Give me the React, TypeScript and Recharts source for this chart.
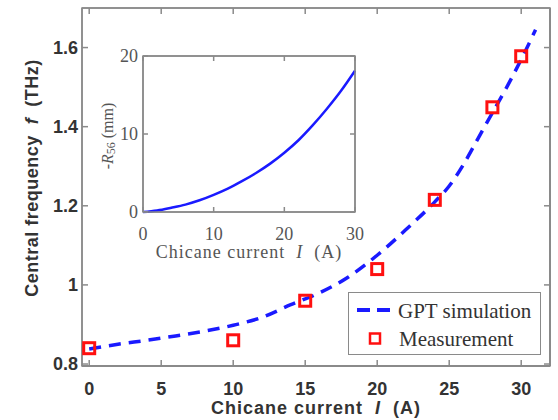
import React from 'react';
import { ComposedChart, LineChart, Line, Scatter, XAxis, YAxis, Legend, ReferenceArea } from 'recharts';

// Main chart data
const simCurrent = [0, 2, 4, 6, 8, 10, 12, 14, 16, 18, 20, 22, 24, 25, 26, 27, 28, 29, 30, 31];
const simFrequency = [0.838, 0.85, 0.86, 0.871, 0.883, 0.898, 0.918, 0.95, 0.98, 1.02, 1.075, 1.14, 1.21, 1.25, 1.305, 1.37, 1.435, 1.5, 1.57, 1.645];
const measCurrent = [0, 10, 15, 20, 24, 28, 30];
const measFrequency = [0.84, 0.86, 0.96, 1.04, 1.215, 1.449, 1.578];

// Inset data
const insetCurrent = [0, 2, 4, 6, 8, 10, 12, 14, 16, 18, 20, 22, 24, 26, 28, 30];
const insetR56 = [0, 0.2, 0.55, 0.95, 1.5, 2.2, 3.0, 3.95, 5.0, 6.2, 7.6, 9.2, 11.1, 13.2, 15.5, 18.1];

// Ticks
const mainXTicks = [0, 5, 10, 15, 20, 25, 30];
const mainYTicks = [0.8, 1, 1.2, 1.4, 1.6];
const insetXTicks = [0, 10, 20, 30];
const insetYTicks = [0, 10, 20];

const seriesNames = ['GPT simulation', 'Measurement'];

const simData = simCurrent.map((c, i) => ({ current: c, freq: simFrequency[i] }));
const measData = measCurrent.map((c, i) => ({ current: c, freq: measFrequency[i] }));
const insetData = insetCurrent.map((c, i) => ({ current: c, r56: insetR56[i] }));

const MAIN_X_DOMAIN: [number, number] = [-0.5, 32];
const MAIN_Y_DOMAIN: [number, number] = [0.795, 1.7];
const INSET_X_DOMAIN: [number, number] = [0, 30];
const INSET_Y_DOMAIN: [number, number] = [0, 20];

const BLUE = '#1a1aff';
const RED = '#ff1010';
const FRAME = '#8a8a8a';
const SANS = '"Liberation Sans", Arial, sans-serif';
const SERIF = '"Liberation Serif", "Times New Roman", serif';
const NB = '\u00a0';

const NoLabel = () => <g />;

const SquareShape = (props: any) => {
  const { cx, cy } = props;
  if (cx == null || cy == null) return null;
  return <rect x={cx - 5.5} y={cy - 5.5} width={11} height={11} fill="none" stroke={RED} strokeWidth={3} />;
};

const LegendBox = () => (
  <svg width={194} height={64} style={{ display: 'block' }}>
    <rect x={0.5} y={0.5} width={192} height={62} fill="#fff" stroke={FRAME} strokeWidth={1} />
    <line x1={9} y1={18} x2={44} y2={18} stroke={BLUE} strokeWidth={4} strokeDasharray="13 7" />
    <text x={50} y={26} fontFamily={SERIF} fontSize={21} fill="#333">{seriesNames[0]}</text>
    <rect x={22} y={41.5} width={10} height={10} fill="none" stroke={RED} strokeWidth={2.5} />
    <text x={51} y={54} fontFamily={SERIF} fontSize={21} fill="#333">{seriesNames[1]}</text>
  </svg>
);

const MainXTitle = () => (
  <text x={316} y={414} textAnchor="middle" fontFamily={SANS} fontSize={18} fontWeight="bold" letterSpacing={1} fill="#333">
    {`Chicane current${NB}${NB}`}<tspan fontStyle="italic">I</tspan>{`${NB}${NB}(A)`}
  </text>
);

const MainYTitle = () => (
  <text
    x={32}
    y={178}
    transform="rotate(-90, 32, 178)"
    textAnchor="middle"
    dominantBaseline="central"
    fontFamily={SANS}
    fontSize={18}
    fontWeight="bold"
    letterSpacing={0.5}
    fill="#333"
  >
    {`Central frequency${NB}${NB}`}<tspan fontStyle="italic">f</tspan>{`${NB}${NB}(THz)`}
  </text>
);

const InsetXTitle = () => (
  <text x={149} y={218} textAnchor="middle" fontFamily={SERIF} fontSize={18} letterSpacing={1} fill="#555">
    {`Chicane current${NB}${NB}`}<tspan fontStyle="italic">I</tspan>{`${NB}${NB}(A)`}
  </text>
);

const InsetYTitle = () => {
  const cx = 7;
  const cy = 96;
  return (
    <text
      x={cx}
      y={cy}
      transform={`rotate(-90, ${cx}, ${cy})`}
      textAnchor="middle"
      dominantBaseline="central"
      fontFamily={SERIF}
      fontSize={16}
      fill="#555"
    >
      -<tspan fontStyle="italic">R</tspan>
      <tspan fontSize={12} dy={4}>56</tspan>
      <tspan dy={-4}>{`${NB}(mm)`}</tspan>
    </text>
  );
};

export default function App() {
  return (
    <div style={{ position: 'absolute', left: 0, top: 0, width: 558, height: 420, background: '#fff' }}>
      <ComposedChart width={558} height={420} margin={{ top: 8, right: 8, bottom: 0, left: 0 }}>
        <XAxis
          xAxisId="bottom"
          dataKey="current"
          type="number"
          domain={MAIN_X_DOMAIN}
          ticks={mainXTicks}
          allowDataOverflow
          height={54}
          axisLine={{ stroke: FRAME, strokeWidth: 2 }}
          tickLine={{ stroke: FRAME, strokeWidth: 1.5 }}
          tickSize={-6}
          tickMargin={22}
          tick={{ fontFamily: SANS, fontSize: 18, fontWeight: 'bold', fill: '#333' }}
          label={{ content: MainXTitle }}
        />
        <YAxis
          yAxisId="left"
          type="number"
          domain={MAIN_Y_DOMAIN}
          ticks={mainYTicks}
          allowDataOverflow
          width={82}
          axisLine={{ stroke: FRAME, strokeWidth: 1.5 }}
          tickLine={{ stroke: FRAME, strokeWidth: 1.5 }}
          tickSize={-6}
          tickMargin={10}
          tick={{ fontFamily: SANS, fontSize: 18, fontWeight: 'bold', fill: '#333' }}
          label={{ content: MainYTitle }}
        />
        <XAxis
          xAxisId="top"
          orientation="top"
          mirror
          dataKey="current"
          type="number"
          domain={MAIN_X_DOMAIN}
          ticks={mainXTicks}
          allowDataOverflow
          axisLine={{ stroke: FRAME, strokeWidth: 1.5 }}
          tickLine={{ stroke: FRAME, strokeWidth: 1.5 }}
          tickSize={6}
          tick={NoLabel}
        />
        <YAxis
          yAxisId="right"
          orientation="right"
          mirror
          type="number"
          domain={MAIN_Y_DOMAIN}
          ticks={mainYTicks}
          allowDataOverflow
          axisLine={{ stroke: FRAME, strokeWidth: 2 }}
          tickLine={{ stroke: FRAME, strokeWidth: 1.5 }}
          tickSize={6}
          tick={NoLabel}
        />
        <ReferenceArea
          xAxisId="bottom"
          yAxisId="left"
          x1={MAIN_X_DOMAIN[0]}
          x2={MAIN_X_DOMAIN[1]}
          y1={MAIN_Y_DOMAIN[0]}
          y2={MAIN_Y_DOMAIN[1]}
          fill="none"
          stroke={FRAME}
          strokeWidth={1.5}
        />
        <Line xAxisId="top" yAxisId="right" data={simData} dataKey="freq" stroke="transparent" dot={false} activeDot={false} legendType="none" isAnimationActive={false} />
        <Line
          xAxisId="bottom"
          yAxisId="left"
          data={simData}
          dataKey="freq"
          name={seriesNames[0]}
          type="monotone"
          stroke={BLUE}
          strokeWidth={3.5}
          strokeDasharray="12 8"
          dot={false}
          activeDot={false}
          isAnimationActive={false}
        />
        <Scatter
          xAxisId="bottom"
          yAxisId="left"
          data={measData}
          dataKey="freq"
          name={seriesNames[1]}
          shape={SquareShape}
          isAnimationActive={false}
        />
        <Legend
          layout="horizontal"
          verticalAlign="middle"
          align="center"
          wrapperStyle={{ left: 348, top: 292, width: 194, height: 64 }}
          content={() => <LegendBox />}
        />
      </ComposedChart>

      <div style={{ position: 'absolute', left: 100, top: 40, width: 265, height: 230 }}>
        <LineChart width={265} height={230} data={insetData} margin={{ top: 16, right: 10, bottom: 0, left: 0 }}>
          <XAxis
            xAxisId="b"
            dataKey="current"
            type="number"
            domain={INSET_X_DOMAIN}
            ticks={insetXTicks}
            height={58}
            axisLine={{ stroke: FRAME, strokeWidth: 1.5 }}
            tickLine={{ stroke: FRAME, strokeWidth: 1.5 }}
            tickSize={-5}
            tickMargin={20}
            tick={{ fontFamily: SERIF, fontSize: 18, fill: '#555' }}
            label={{ content: InsetXTitle }}
          />
          <YAxis
            yAxisId="l"
            type="number"
            domain={INSET_Y_DOMAIN}
            ticks={insetYTicks}
            width={43}
            axisLine={{ stroke: FRAME, strokeWidth: 1.5 }}
            tickLine={{ stroke: FRAME, strokeWidth: 1.5 }}
            tickSize={-5}
            tickMargin={10}
            tick={{ fontFamily: SERIF, fontSize: 18, fill: '#555' }}
            label={{ content: InsetYTitle }}
          />
          <XAxis
            xAxisId="t"
            orientation="top"
            mirror
            dataKey="current"
            type="number"
            domain={INSET_X_DOMAIN}
            ticks={insetXTicks}
            axisLine={{ stroke: FRAME, strokeWidth: 1.5 }}
            tickLine={{ stroke: FRAME, strokeWidth: 1.5 }}
            tickSize={5}
            tick={NoLabel}
          />
          <YAxis
            yAxisId="r"
            orientation="right"
            mirror
            type="number"
            domain={INSET_Y_DOMAIN}
            ticks={insetYTicks}
            axisLine={{ stroke: FRAME, strokeWidth: 1.5 }}
            tickLine={{ stroke: FRAME, strokeWidth: 1.5 }}
            tickSize={5}
            tick={NoLabel}
          />
          <ReferenceArea
            xAxisId="b"
            yAxisId="l"
            x1={INSET_X_DOMAIN[0]}
            x2={INSET_X_DOMAIN[1]}
            y1={INSET_Y_DOMAIN[0]}
            y2={INSET_Y_DOMAIN[1]}
            fill="none"
            stroke={FRAME}
            strokeWidth={1.5}
          />
          <Line xAxisId="t" yAxisId="r" dataKey="r56" stroke="transparent" dot={false} activeDot={false} legendType="none" isAnimationActive={false} />
          <Line
            xAxisId="b"
            yAxisId="l"
            dataKey="r56"
            type="monotone"
            stroke={BLUE}
            strokeWidth={2.5}
            dot={false}
            activeDot={false}
            isAnimationActive={false}
          />
        </LineChart>
      </div>
    </div>
  );
}
